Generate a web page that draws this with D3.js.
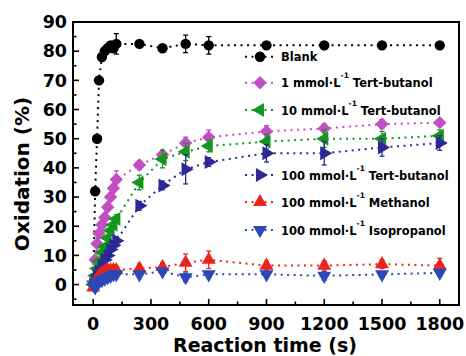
<!DOCTYPE html>
<html>
<head>
<meta charset="utf-8">
<script src="https://cdn.jsdelivr.net/npm/d3@7"></script>
<style>
  html, body { margin: 0; padding: 0; background: #fff; }
  svg { display: block; }
  text { font-family: "DejaVu Sans", "Liberation Sans", Arial, sans-serif; font-weight: bold; fill: #000; }
</style>
</head>
<body>
<svg id="chart" width="466" height="356"></svg>
<script>
// Sampling times (s)
const timesEarly = [0, 10, 20, 30, 45, 60, 75, 90, 105, 120];
const timesLate = [240, 360, 480, 600, 900, 1200, 1500, 1800];
const times = timesEarly.concat(timesLate);

// Oxidation (%) for each condition
const blank      = [0, 32, 50, 70, 78, 80, 81, 82, 81, 82.5, 82.5, 81, 82.5, 82, 82, 82, 82, 82];
const tba1       = [0, 8.5, 14, 17.5, 20.5, 23, 26.5, 30, 33, 36, 41, 44.5, 48.5, 50.5, 52.5, 53.5, 55, 55.5];
const tba10      = [0, 3, 5.5, 8, 11, 13, 16, 18.5, 20.5, 22.5, 35, 43, 45.5, 47.5, 49, 50, 50, 51];
const tba100     = [0, 1.5, 3, 4.5, 6.5, 8.5, 10, 12, 13.5, 15, 27, 34, 39.5, 42, 45, 45, 47, 48.5];
const methanol   = [-1, 1, 2, 3, 4, 4.5, 5, 5, 5, 5, 5.5, 6, 7.5, 8.5, 6.5, 6.5, 7, 6.5];
const isopropanol= [0, -1, 0, 1, 1.5, 2, 2.5, 3, 3.5, 3.5, 3.5, 4.5, 2.5, 3.5, 3.5, 3, 3.5, 4];

// Error bar half-widths (%)
const blankErr   = [0, 0, 0, 0, 0, 0, 0, 0, 0, 3.5, 1, 1, 3, 3, 1, 1, 1, 1];
const tba1Err    = [0, 0, 0, 0, 0, 0, 0, 0, 0, 3, 1.5, 1.5, 2, 2.5, 2, 1.5, 1.5, 1];
const tba10Err   = [0, 0, 0, 0, 0, 0, 0, 0, 0, 1.5, 2.5, 3, 3, 2, 2.5, 3, 2.5, 2];
const tba100Err  = [0, 0, 0, 0, 0, 0, 0, 0, 0, 1.5, 1.5, 1.5, 5, 1.5, 3, 4, 3, 2.5];
const methanolErr= [0, 0, 0, 0, 0, 0, 0, 0, 0, 1, 1.5, 1.5, 3, 3, 1.5, 1.5, 1.5, 2.5];
const isoErr     = [0, 0, 0, 0, 0, 0, 0, 0, 0, 1, 1, 1, 1.5, 1, 1, 1.5, 1, 1];

const seriesNames  = ["Blank", "1 mmol·L", "10 mmol·L", "100 mmol·L", "100 mmol·L", "100 mmol·L"];
const seriesSuffix = ["", "Tert-butanol", "Tert-butanol", "Tert-butanol", "Methanol", "Isopropanol"];
const seriesColors = ["#000000", "#c24ec4", "#14961e", "#2c2896", "#e8261e", "#2a48b8"];
const seriesShapes = ["circle", "diamond", "left", "right", "up", "down"];

const xTicks = [0, 300, 600, 900, 1200, 1500, 1800];
const yTicks = [0, 10, 20, 30, 40, 50, 60, 70, 80, 90];

const seriesValues = [blank, tba1, tba10, tba100, methanol, isopropanol];
const seriesErrors = [blankErr, tba1Err, tba10Err, tba100Err, methanolErr, isoErr];

const svg = d3.select("#chart");
const plot = { left: 73, right: 459, top: 22, bottom: 305 };

const x = d3.scaleLinear().domain([-105, 1900]).range([plot.left, plot.right]);
const y = d3.scaleLinear().domain([-7, 90]).range([plot.bottom, plot.top]);

// Marker shape generator
function markerPath(shape) {
  if (shape === "circle") return d3.symbol(d3.symbolCircle, 85)();
  if (shape === "diamond") return d3.symbol(d3.symbolSquare, 90)();
  return d3.symbol(d3.symbolTriangle, 85)();
}
function markerRotate(shape) {
  return { diamond: 45, left: -90, right: 90, up: 0, down: 180 }[shape] || 0;
}

// Minor and major ticks, pointing inward
const xMinor = d3.range(150, 1800, 300);
const yMinor = d3.range(-5, 90, 10);

const tickG = svg.append("g").attr("stroke", "#000").attr("stroke-width", 1.6);
xTicks.forEach(t => tickG.append("line").attr("x1", x(t)).attr("x2", x(t)).attr("y1", plot.bottom).attr("y2", plot.bottom - 6));
xMinor.forEach(t => tickG.append("line").attr("x1", x(t)).attr("x2", x(t)).attr("y1", plot.bottom).attr("y2", plot.bottom - 3.5));
yTicks.forEach(t => tickG.append("line").attr("x1", plot.left).attr("x2", plot.left + 6).attr("y1", y(t)).attr("y2", y(t)));
yMinor.forEach(t => tickG.append("line").attr("x1", plot.left).attr("x2", plot.left + 3.5).attr("y1", y(t)).attr("y2", y(t)));

// Tick labels
svg.append("g").selectAll("text").data(xTicks).join("text")
  .attr("x", d => x(d)).attr("y", 329.5)
  .attr("text-anchor", "middle").attr("font-size", 17.5)
  .text(d => d);
svg.append("g").selectAll("text").data(yTicks).join("text")
  .attr("x", 67).attr("y", d => y(d)).attr("dy", "0.36em")
  .attr("text-anchor", "end").attr("font-size", 17.5)
  .text(d => d);

// Axis titles
svg.append("text").attr("x", 265).attr("y", 351.5).attr("text-anchor", "middle")
  .attr("font-size", 19).text("Reaction time (s)");
svg.append("text").attr("transform", "translate(29,174) rotate(-90)").attr("text-anchor", "middle")
  .attr("font-size", 20).text("Oxidation (%)");

// Series
const line = d3.line().x(d => x(d[0])).y(d => y(d[1]));
const dataG = svg.append("g");
seriesValues.forEach((vals, i) => {
  const pts = times.map((t, j) => [t, vals[j], seriesErrors[i][j]]);
  const g = dataG.append("g");
  g.append("path").attr("d", line(pts)).attr("fill", "none")
    .attr("stroke", seriesColors[i]).attr("stroke-width", 2)
    .attr("stroke-dasharray", "2,4.5");
  pts.filter(p => p[2] > 0).forEach(p => {
    const cx = x(p[0]);
    g.append("line").attr("x1", cx).attr("x2", cx).attr("y1", y(p[1] - p[2])).attr("y2", y(p[1] + p[2]))
      .attr("stroke", seriesColors[i]).attr("stroke-width", 1.3);
    [p[1] - p[2], p[1] + p[2]].forEach(v => g.append("line")
      .attr("x1", cx - 2.5).attr("x2", cx + 2.5).attr("y1", y(v)).attr("y2", y(v))
      .attr("stroke", seriesColors[i]).attr("stroke-width", 1.3));
  });
  g.selectAll("path.m").data(pts).join("path").attr("class", "m")
    .attr("d", markerPath(seriesShapes[i]))
    .attr("transform", d => `translate(${x(d[0])},${y(d[1])}) rotate(${markerRotate(seriesShapes[i])})`)
    .attr("fill", seriesColors[i]);
});

// Frame
svg.append("rect").attr("x", plot.left).attr("y", plot.top)
  .attr("width", plot.right - plot.left).attr("height", plot.bottom - plot.top)
  .attr("fill", "none").attr("stroke", "#000").attr("stroke-width", 2);

// Legend
const legendY = [56.7, 82.7, 110, 175, 202, 230];
const legG = svg.append("g");
seriesNames.forEach((name, i) => {
  const ly = legendY[i];
  legG.append("line").attr("x1", 245).attr("x2", 274).attr("y1", ly).attr("y2", ly)
    .attr("stroke", seriesColors[i]).attr("stroke-width", 2).attr("stroke-dasharray", "2,4.5");
  legG.append("path").attr("d", markerPath(seriesShapes[i]))
    .attr("transform", `translate(260,${ly}) rotate(${markerRotate(seriesShapes[i])})`)
    .attr("fill", seriesColors[i]);
  const t = legG.append("text").attr("x", 281).attr("y", ly + 4.5).attr("font-size", 11.5);
  t.append("tspan").text(name);
  if (seriesSuffix[i]) {
    t.append("tspan").attr("dy", -9).attr("font-size", 7.5).text("-1");
    t.append("tspan").attr("dy", 9).text(" " + seriesSuffix[i]);
  }
});
</script>
</body>
</html>
